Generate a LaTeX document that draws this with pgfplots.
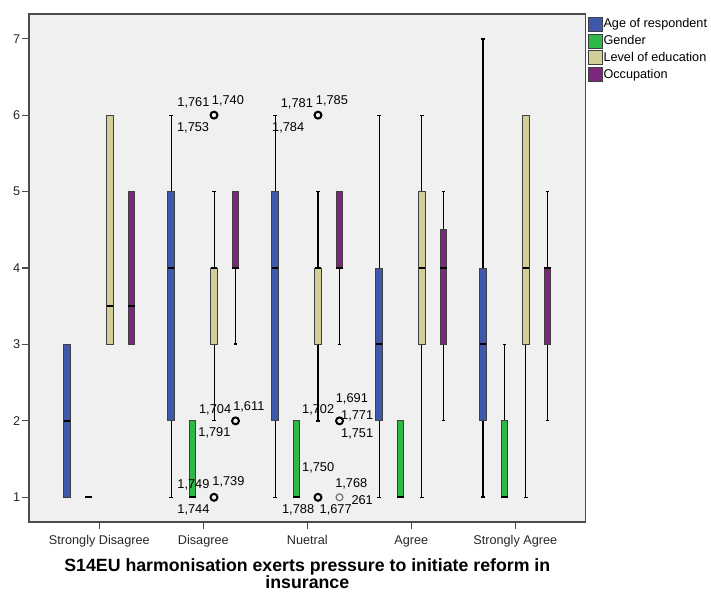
\documentclass[border=0pt]{standalone}
\usepackage{pgfplots}
\pgfplotsset{compat=1.18}
\usepgfplotslibrary{statistics}
\usepackage{fontspec}
\setmainfont{Liberation Sans}
\definecolor{cage}{RGB}{62,88,172}
\definecolor{cgen}{RGB}{46,184,72}
\definecolor{cedu}{RGB}{211,206,151}
\definecolor{cocc}{RGB}{124,39,124}
\definecolor{bgc}{RGB}{240,240,240}
\newcommand{\lab}{\fontsize{9.6}{10}\selectfont}
\begin{document}
\begin{tikzpicture}
\path[use as bounding box] (0,0) rectangle (533.25pt,444pt);
\begin{axis}[
  at={(21.75pt,52.5pt)}, anchor=south west,
  scale only axis, width=417.5pt, height=381pt,
  xmin=-0.676, xmax=4.677, ymin=0.677, ymax=7.323,
  axis background/.style={fill=bgc},
  axis line style={draw=black!70, line width=0.8pt},
  xtick={0,1,2,3,4},
  xticklabels={Strongly Disagree, Disagree, Nuetral, Agree, Strongly Agree},
  ytick={1,2,3,4,5,6,7},
  tick align=outside, xtick pos=bottom, ytick pos=left,
  major tick length=5pt,
  tick style={draw=black!70, line width=0.8pt},
  xticklabel style={anchor=base, yshift=-11.7pt, font=\fontsize{9.5}{11}\selectfont, inner sep=0pt, text=black!85},
  yticklabel style={anchor=east, xshift=-1.5pt, font=\fontsize{9.5}{11}\selectfont, inner sep=0pt, text=black!85},
  /pgf/number format/assume math mode=true,
  xlabel={S14EU harmonisation exerts pressure to initiate reform in\\insurance},
  xlabel style={at={(axis description cs:0.5,0)}, anchor=north, yshift=-27.3pt, align=center, font=\fontsize{13.3}{12.8}\selectfont\bfseries, inner sep=0pt},
  legend style={at={(1,1)}, anchor=north west, xshift=1.5pt, yshift=-1.9pt, draw=none, fill=none, font=\fontsize{9.5}{10}\selectfont, inner sep=0pt, row sep=1.5pt, nodes={inner sep=0.6pt}},
  legend cell align=left,
  legend image code/.code={\draw[#1] (0pt,-5.25pt) rectangle (10.5pt,5.25pt);},
  boxplot/draw direction=y,
  boxplot/box extend=0.0625,
  boxplot/whisker extend=0.03,
  boxplot/every median/.style={draw=black, line width=1.6pt},
  boxplot/every whisker/.style={draw=black, line width=0.75pt},
  boxplot/every box/.style={draw=black!75, line width=0.6pt},
]
\addlegendimage{fill=cage, draw=black!75, line width=0.6pt}
\addlegendentry{Age of respondent}
\addlegendimage{fill=cgen, draw=black!75, line width=0.6pt}
\addlegendentry{Gender}
\addlegendimage{fill=cedu, draw=black!75, line width=0.6pt}
\addlegendentry{Level of education}
\addlegendimage{fill=cocc, draw=black!75, line width=0.6pt}
\addlegendentry{Occupation}

% ---- Strongly Disagree (0)
\addplot[fill=cage, forget plot, boxplot prepared={draw position=-0.31, lower whisker=1, lower quartile=1, median=2, upper quartile=3, upper whisker=3}] coordinates {};
\addplot[fill=cgen, forget plot, boxplot prepared={draw position=-0.103, lower whisker=1, lower quartile=1, median=1, upper quartile=1, upper whisker=1}] coordinates {};
\addplot[fill=cedu, forget plot, boxplot prepared={draw position=0.103, lower whisker=3, lower quartile=3, median=3.5, upper quartile=6, upper whisker=6}] coordinates {};
\addplot[fill=cocc, forget plot, boxplot prepared={draw position=0.31, lower whisker=3, lower quartile=3, median=3.5, upper quartile=5, upper whisker=5}] coordinates {};

% ---- Disagree (1)
\addplot[fill=cage, forget plot, boxplot prepared={draw position=0.69, lower whisker=1, lower quartile=2, median=4, upper quartile=5, upper whisker=6}] coordinates {};
\addplot[fill=cgen, forget plot, boxplot prepared={draw position=0.897, lower whisker=1, lower quartile=1, median=1, upper quartile=2, upper whisker=2}] coordinates {};
\addplot[fill=cedu, forget plot, boxplot prepared={draw position=1.103, lower whisker=2, lower quartile=3, median=4, upper quartile=4, upper whisker=5}] coordinates {};
\addplot[fill=cocc, forget plot, boxplot prepared={draw position=1.31, lower whisker=3, lower quartile=4, median=4, upper quartile=5, upper whisker=5, every whisker/.append style={line width=1.4pt}}] coordinates {};

% ---- Nuetral (2)
\addplot[fill=cage, forget plot, boxplot prepared={draw position=1.69, lower whisker=1, lower quartile=2, median=4, upper quartile=5, upper whisker=6}] coordinates {};
\addplot[fill=cgen, forget plot, boxplot prepared={draw position=1.897, lower whisker=1, lower quartile=1, median=1, upper quartile=2, upper whisker=2}] coordinates {};
\addplot[fill=cedu, forget plot, boxplot prepared={draw position=2.103, lower whisker=2, lower quartile=3, median=4, upper quartile=4, upper whisker=5, every whisker/.append style={line width=1.4pt}}] coordinates {};
\addplot[fill=cocc, forget plot, boxplot prepared={draw position=2.31, lower whisker=3, lower quartile=4, median=4, upper quartile=5, upper whisker=5}] coordinates {};

% ---- Agree (3)
\addplot[fill=cage, forget plot, boxplot prepared={draw position=2.69, lower whisker=1, lower quartile=2, median=3, upper quartile=4, upper whisker=6}] coordinates {};
\addplot[fill=cgen, forget plot, boxplot prepared={draw position=2.897, lower whisker=1, lower quartile=1, median=1, upper quartile=2, upper whisker=2}] coordinates {};
\addplot[fill=cedu, forget plot, boxplot prepared={draw position=3.103, lower whisker=1, lower quartile=3, median=4, upper quartile=5, upper whisker=6}] coordinates {};
\addplot[fill=cocc, forget plot, boxplot prepared={draw position=3.31, lower whisker=2, lower quartile=3, median=4, upper quartile=4.5, upper whisker=5}] coordinates {};

% ---- Strongly Agree (4)
\addplot[fill=cage, forget plot, boxplot prepared={draw position=3.69, lower whisker=1, lower quartile=2, median=3, upper quartile=4, upper whisker=7, every whisker/.append style={line width=1.4pt}}] coordinates {};
\addplot[fill=cgen, forget plot, boxplot prepared={draw position=3.897, lower whisker=1, lower quartile=1, median=1, upper quartile=2, upper whisker=3}] coordinates {};
\addplot[fill=cedu, forget plot, boxplot prepared={draw position=4.103, lower whisker=1, lower quartile=3, median=4, upper quartile=6, upper whisker=6}] coordinates {};
\addplot[fill=cocc, forget plot, boxplot prepared={draw position=4.31, lower whisker=2, lower quartile=3, median=4, upper quartile=4, upper whisker=5}] coordinates {};

% ---- outliers
\addplot[only marks, mark=o, mark size=2.6pt, line width=1.5pt, black, forget plot] coordinates {(1.103,6) (1.103,1) (1.31,2) (2.103,6) (2.103,1) (2.31,2)};
\addplot[only marks, mark=o, mark size=2.6pt, line width=0.9pt, black!55, forget plot] coordinates {(2.31,1)};

% ---- outlier case labels
\node[font=\lab] at (axis cs:0.905,6.166) {1,761};
\node[font=\lab] at (axis cs:1.237,6.185) {1,740};
\node[font=\lab] at (axis cs:0.902,5.838) {1,753};
\node[font=\lab] at (axis cs:1.900,6.146) {1,781};
\node[font=\lab] at (axis cs:2.237,6.181) {1,785};
\node[font=\lab] at (axis cs:1.816,5.832) {1,784};
\node[font=\lab] at (axis cs:1.114,2.142) {1,704};
\node[font=\lab] at (axis cs:1.438,2.181) {1,611};
\node[font=\lab] at (axis cs:1.107,1.841) {1,791};
\node[font=\lab] at (axis cs:0.905,1.157) {1,749};
\node[font=\lab] at (axis cs:1.242,1.196) {1,739};
\node[font=\lab] at (axis cs:0.905,0.840) {1,744};
\node[font=\lab] at (axis cs:2.105,2.142) {1,702};
\node[font=\lab] at (axis cs:2.429,2.290) {1,691};
\node[font=\lab] at (axis cs:2.480,2.070) {1,771};
\node[font=\lab] at (axis cs:2.480,1.828) {1,751};
\node[font=\lab] at (axis cs:2.105,1.379) {1,750};
\node[font=\lab] at (axis cs:1.912,0.840) {1,788};
\node[font=\lab] at (axis cs:2.273,0.840) {1,677};
\node[font=\lab] at (axis cs:2.423,1.174) {1,768};
\node[font=\lab] at (axis cs:2.528,0.969) {261};
\end{axis}
\end{tikzpicture}
\end{document}
